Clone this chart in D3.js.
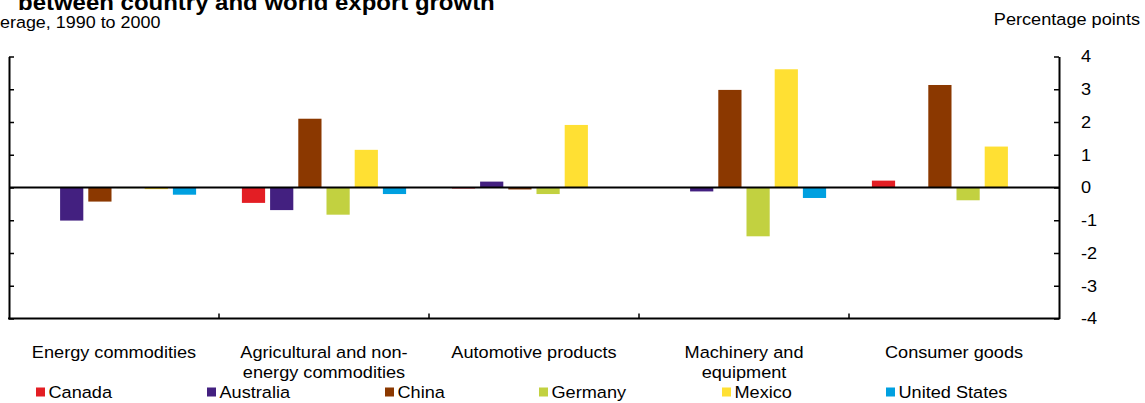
<!DOCTYPE html>
<html>
<head>
<meta charset="utf-8">
<script src="https://cdn.jsdelivr.net/npm/d3@7"></script>
<style>
  html, body { margin: 0; padding: 0; background: #fff; }
  svg { display: block; }
  text { font-family: "Liberation Sans", Arial, Helvetica, sans-serif; fill: #000; }
</style>
</head>
<body>
<svg id="chart" width="1145" height="403"></svg>
<script>
// ---- data ----
const categories = ["Energy commodities", "Agricultural and non-energy commodities", "Automotive products", "Machinery and equipment", "Consumer goods"];
const categoryLines = [["Energy commodities"], ["Agricultural and non-", "energy commodities"], ["Automotive products"], ["Machinery and", "equipment"], ["Consumer goods"]];
const seriesNames = ["Canada", "Australia", "China", "Germany", "Mexico", "United States"];
const canada       = [0.00, -0.47, -0.03,  0.00,  0.21];
const australia    = [-1.01, -0.69, 0.18, -0.12,  0.00];
const china        = [-0.43,  2.10, -0.06, 2.98,  3.13];
const germany      = [-0.02, -0.83, -0.20, -1.49, -0.39];
const mexico       = [-0.05,  1.15,  1.91,  3.61,  1.25];
const unitedStates = [-0.22, -0.20,  0.00, -0.32,  0.00];
const yTicks = [-4, -3, -2, -1, 0, 1, 2, 3, 4];
const titleText = "between country and world export growth";
const subtitleText = "erage, 1990 to 2000";
const unitText = "Percentage points";

// ---- styles / layout ----
const seriesValues = [canada, australia, china, germany, mexico, unitedStates];
const colors = ["#E31E24", "#432080", "#8B3800", "#C2D140", "#FFE033", "#00A0E0"];
const legendX = [36, 207, 385, 539, 722, 886];
const SX = 1.1;           // horizontal text stretch of the original
const FS = 16.5;

const svg = d3.select("#chart");
const pLeft = 9, pRight = 1059, pTop = 56.5, pBottom = 318.5;

const x0 = d3.scaleBand().domain(categories).range([pLeft, pRight]).padding(0);
const x1 = d3.scaleBand().domain(seriesNames).range([0, x0.bandwidth()])
  .paddingInner(0.177).paddingOuter(0.812);
const y = d3.scaleLinear().domain([-4, 4]).range([pBottom, pTop]);

function label(g, txt, x, yy, anchor, size, weight) {
  return g.append("text")
    .attr("transform", `translate(${x},${yy}) scale(${SX},1)`)
    .attr("text-anchor", anchor || "start")
    .style("font-size", (size || FS) + "px")
    .style("font-weight", weight || "normal")
    .text(txt);
}

// titles
label(svg, titleText, 18, 9.5, "start", 21.8, "bold");
label(svg, subtitleText, 0, 28, "start", 16.3);
label(svg, unitText, 1140, 25, "end", FS);

// bars
const groups = svg.append("g").selectAll("g")
  .data(categories).join("g")
  .attr("transform", d => `translate(${x0(d)},0)`);

groups.selectAll("rect")
  .data((d, ci) => seriesNames.map((s, si) => ({ s, si, v: seriesValues[si][ci] })))
  .join("rect")
  .attr("x", d => x1(d.s))
  .attr("width", x1.bandwidth())
  .attr("y", d => y(Math.max(0, d.v)))
  .attr("height", d => Math.abs(y(d.v) - y(0)))
  .attr("fill", d => colors[d.si]);

// left axis (ticks only)
const leftAxis = svg.append("g").attr("transform", `translate(${pLeft},0)`)
  .call(d3.axisLeft(y).tickValues(yTicks).tickSizeInner(-5).tickSizeOuter(0).tickFormat(""));
// right axis with labels
const rightAxis = svg.append("g").attr("transform", `translate(${pRight},0)`)
  .call(d3.axisRight(y).tickValues(yTicks).tickSizeInner(-5).tickSizeOuter(0).tickPadding(22).tickFormat(d => String(d)));
rightAxis.selectAll("text")
  .attr("x", 22 / SX)
  .attr("transform", `scale(${SX},1)`)
  .style("font-size", FS + "px")
  .style("font-family", '"Liberation Sans", Arial, sans-serif');
[leftAxis, rightAxis].forEach(a => {
  a.select(".domain").attr("stroke", "#000").attr("stroke-width", 2);
  a.selectAll(".tick line").attr("stroke", "#000").attr("stroke-width", 1.5);
});

// bottom axis line
svg.append("line").attr("x1", pLeft - 1).attr("x2", pRight + 1)
  .attr("y1", pBottom).attr("y2", pBottom).attr("stroke", "#000").attr("stroke-width", 2.2);
// category separator ticks
svg.append("g").selectAll("line")
  .data(categories.slice(1)).join("line")
  .attr("x1", d => x0(d)).attr("x2", d => x0(d))
  .attr("y1", pBottom).attr("y2", pBottom - 5)
  .attr("stroke", "#000").attr("stroke-width", 1.5);

// zero line
svg.append("line").attr("x1", pLeft).attr("x2", pRight)
  .attr("y1", y(0)).attr("y2", y(0)).attr("stroke", "#000").attr("stroke-width", 2);

// category labels
categoryLines.forEach((lines, i) => {
  const cx = x0(categories[i]) + x0.bandwidth() / 2;
  lines.forEach((ln, j) => label(svg, ln, cx, 358 + j * 19.5, "middle", FS));
});

// legend
seriesNames.forEach((s, i) => {
  svg.append("rect").attr("x", legendX[i]).attr("y", 387.5)
    .attr("width", 9).attr("height", 9).attr("fill", colors[i]);
  label(svg, s, legendX[i] + 12.5, 398, "start", FS);
});
</script>
</body>
</html>
